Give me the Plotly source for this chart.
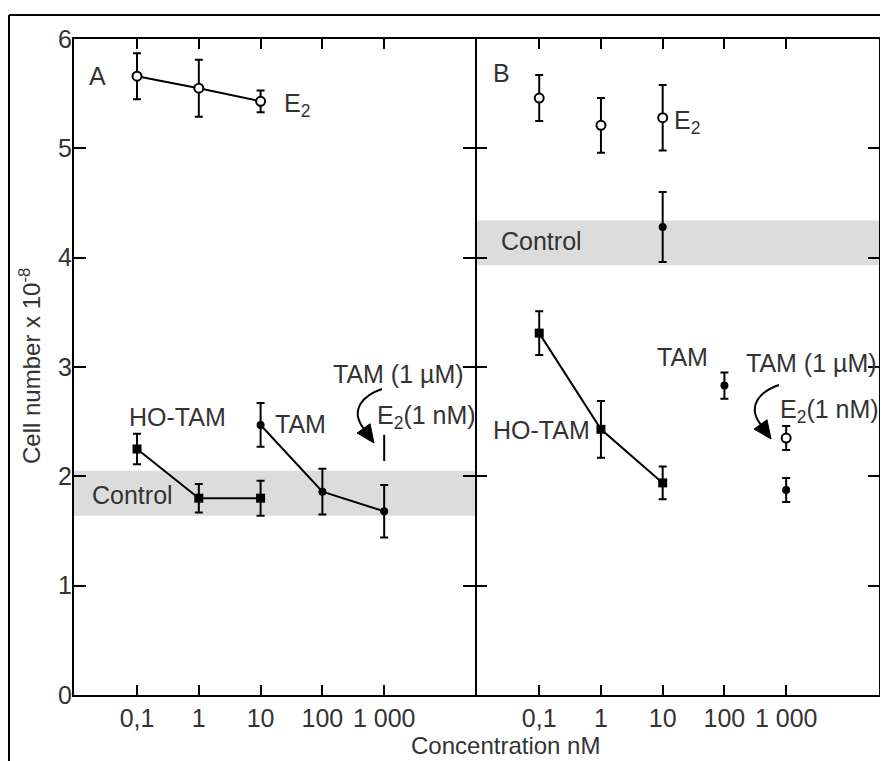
import plotly.graph_objects as go

# ---------------- data ----------------
conc_ticks = [0.1, 1, 10, 100, 1000]
conc_ticktext = ["0,1", "1", "10", "100", "1 000"]
y_ticks = [0, 1, 2, 3, 4, 5, 6]

# Panel A
a_e2_x = [0.1, 1, 10]
a_e2_y = [5.66, 5.55, 5.43]
a_e2_err = [0.21, 0.26, 0.10]

a_hotam_x = [0.1, 1, 10]
a_hotam_y = [2.25, 1.80, 1.80]
a_hotam_err = [0.14, 0.13, 0.16]

a_tam_x = [10, 100, 1000]
a_tam_y = [2.47, 1.86, 1.68]
a_tam_err = [0.20, 0.21, 0.24]

a_combo_x = [1000]
a_combo_y = [2.26]
a_combo_err = [0.12]

a_control_band = [1.64, 2.05]

# Panel B
b_e2_x = [0.1, 1, 10]
b_e2_y = [5.46, 5.21, 5.28]
b_e2_err = [0.21, 0.25, 0.30]

b_ctrl_x = [10]
b_ctrl_y = [4.28]
b_ctrl_err = [0.32]

b_hotam_x = [0.1, 1, 10]
b_hotam_y = [3.31, 2.43, 1.94]
b_hotam_err = [0.20, 0.26, 0.15]

b_tam_x = [100, 1000]
b_tam_y = [2.83, 1.875]
b_tam_err = [0.12, 0.11]

b_combo_x = [1000]
b_combo_y = [2.35]
b_combo_err = [0.11]

b_control_band = [3.93, 4.34]

# ---------------- layout geometry ----------------
# The page body adds an 8px margin, so the figure is placed at (8, 8) on screen.
OFF = 8
W, H = 888 - OFF, 761 - OFF
SX0, SX1 = 74, 880      # plot area on screen (x)
SY0, SY1 = 39, 695      # plot area on screen (y)
L = SX0 - OFF
R = W - (SX1 - OFF)
T = SY0 - OFF
B = H - (SY1 - OFF)
PW = SX1 - SX0
PH = SY1 - SY0
split = (475 - SX0) / PW


def px(x):
    return (x - SX0) / PW


def py(y):
    return (SY1 - y) / PH


FONT = "Liberation Sans, Arial, Helvetica, sans-serif"
TXT = "#333333"

fig = go.Figure()


def err(arr, width=4):
    return dict(type="data", array=arr, visible=True, color="black",
                thickness=2, width=width)


open_marker = dict(symbol="circle", size=9, color="white",
                   line=dict(color="black", width=2))
square_marker = dict(symbol="square", size=9, color="black")
dot_marker = dict(symbol="circle", size=8, color="black")

# Panel A traces
fig.add_trace(go.Scatter(x=a_hotam_x, y=a_hotam_y, mode="lines+markers",
                         line=dict(color="black", width=2), marker=square_marker,
                         error_y=err(a_hotam_err), xaxis="x", yaxis="y"))
fig.add_trace(go.Scatter(x=a_tam_x, y=a_tam_y, mode="lines+markers",
                         line=dict(color="black", width=2), marker=dot_marker,
                         error_y=err(a_tam_err), xaxis="x", yaxis="y"))
fig.add_trace(go.Scatter(x=a_combo_x, y=a_combo_y, mode="markers",
                         marker=dict(size=1, color="rgba(0,0,0,0)"),
                         error_y=err(a_combo_err, width=0), xaxis="x", yaxis="y"))
fig.add_trace(go.Scatter(x=a_e2_x, y=a_e2_y, mode="lines+markers",
                         line=dict(color="black", width=2), marker=open_marker,
                         error_y=err(a_e2_err), xaxis="x", yaxis="y"))

# Panel B traces
fig.add_trace(go.Scatter(x=b_hotam_x, y=b_hotam_y, mode="lines+markers",
                         line=dict(color="black", width=2), marker=square_marker,
                         error_y=err(b_hotam_err), xaxis="x2", yaxis="y2"))
fig.add_trace(go.Scatter(x=b_tam_x, y=b_tam_y, mode="markers", marker=dot_marker,
                         error_y=err(b_tam_err), xaxis="x2", yaxis="y2"))
fig.add_trace(go.Scatter(x=b_ctrl_x, y=b_ctrl_y, mode="markers", marker=dot_marker,
                         error_y=err(b_ctrl_err), xaxis="x2", yaxis="y2"))
fig.add_trace(go.Scatter(x=b_combo_x, y=b_combo_y, mode="markers", marker=open_marker,
                         error_y=err(b_combo_err), xaxis="x2", yaxis="y2"))
fig.add_trace(go.Scatter(x=b_e2_x, y=b_e2_y, mode="markers", marker=open_marker,
                         error_y=err(b_e2_err), xaxis="x2", yaxis="y2"))

TICKFONT = dict(family=FONT, size=25, color=TXT)
xaxis_common = dict(type="log", tickvals=conc_ticks, ticktext=conc_ticktext,
                    ticks="inside", ticklen=10, tickwidth=2, tickcolor="black",
                    showline=True, linewidth=2, linecolor="black", mirror="ticks",
                    showgrid=False, zeroline=False, tickfont=TICKFONT)
yaxis_common = dict(range=[0, 6], tickvals=y_ticks, ticks="inside", ticklen=12,
                    tickwidth=2, tickcolor="black", linewidth=2,
                    linecolor="black", mirror="ticks", showgrid=False, zeroline=False,
                    tickfont=TICKFONT)

fig.update_layout(
    width=W, height=H, margin=dict(l=L, r=R, t=T, b=B, pad=0),
    paper_bgcolor="white", plot_bgcolor="rgba(0,0,0,0)", showlegend=False,
    xaxis=dict(domain=[0, split], range=[-2.02, 4.47], anchor="y", **xaxis_common),
    xaxis2=dict(domain=[split, 1], range=[-2.04, 4.52], anchor="y2",
                **xaxis_common),
    yaxis=dict(domain=[0, 1], anchor="x", showline=True, ticklabelstandoff=-5,
               **yaxis_common),
    yaxis2=dict(domain=[0, 1], anchor="x2", showline=False, showticklabels=False,
                **yaxis_common),
)

shapes = []
# control bands
shapes.append(dict(type="rect", xref="x domain", yref="y", x0=0, x1=1,
                   y0=a_control_band[0], y1=a_control_band[1],
                   fillcolor="#dcdcdc", line=dict(width=0), layer="below"))
shapes.append(dict(type="rect", xref="x2 domain", yref="y2", x0=0, x1=1,
                   y0=b_control_band[0], y1=b_control_band[1],
                   fillcolor="#dcdcdc", line=dict(width=0), layer="below"))
# right edge of panel B
shapes.append(dict(type="line", xref="x2 domain", yref="y2 domain",
                   x0=1, x1=1, y0=0, y1=1, line=dict(color="black", width=2)))
# outer frame (left and top edges)
shapes.append(dict(type="line", xref="paper", yref="paper",
                   x0=px(9), x1=px(9), y0=py(15), y1=py(800),
                   line=dict(color="black", width=2)))
shapes.append(dict(type="line", xref="paper", yref="paper",
                   x0=px(9), x1=px(900), y0=py(15), y1=py(15),
                   line=dict(color="black", width=2)))


def curved_arrow(start, tip, head_len=18, half_w=8):
    # shaft: cubic curve bulging to the left, ending in a head pointing down-right
    sx, sy = start
    tx, ty = tip
    d = (0.58, 0.81)
    n = (d[1], -d[0])
    bx, by = tx - head_len * d[0], ty - head_len * d[1]
    c1 = (sx - 18, sy + 6)
    c2 = (bx - 0.6 * 24, by - 0.8 * 24)
    p = (f"M {px(sx)},{py(sy)} C {px(c1[0])},{py(c1[1])} "
         f"{px(c2[0])},{py(c2[1])} {px(bx)},{py(by)}")
    h = (f"M {px(tx)},{py(ty)} L {px(bx + half_w * n[0])},{py(by + half_w * n[1])} "
         f"L {px(bx - half_w * n[0])},{py(by - half_w * n[1])} Z")
    return [dict(type="path", xref="paper", yref="paper", path=p,
                 line=dict(color="black", width=2)),
            dict(type="path", xref="paper", yref="paper", path=h,
                 fillcolor="black", line=dict(color="black", width=1))]


shapes += curved_arrow((382, 389), (374, 443))
shapes += curved_arrow((779, 385), (771, 439))
fig.update_layout(shapes=shapes)

ann = []


def text(t, x, y, xref, yref, xanchor="center", size=25, **kw):
    ann.append(dict(text=t, x=x, y=y, xref=xref, yref=yref, xanchor=xanchor,
                    yanchor="middle", showarrow=False,
                    font=dict(family=FONT, size=size, color=TXT), **kw))


# Panel A labels
text("A", -1.647, 5.66, "x", "y")
text("E<sub>2</sub>", 1.348, 5.40, "x", "y", xanchor="left")
text("HO-TAM", -0.352, 2.54, "x", "y")
text("TAM", 1.64, 2.48, "x", "y")
text("TAM (1 µM)", 3.227, 2.94, "x", "y")
text("E<sub>2</sub>(1 nM)", 2.855, 2.54, "x", "y", xanchor="left")
text("Control", -1.081, 1.83, "x", "y")

# Panel B labels
text("B", -1.603, 5.69, "x2", "y2")
text("E<sub>2</sub>", 1.15, 5.24, "x2", "y2", xanchor="left")
text("Control", -0.971, 4.15, "x2", "y2")
text("HO-TAM", -0.971, 2.42, "x2", "y2")
text("TAM", 1.328, 3.09, "x2", "y2")
text("TAM (1 µM)", 3.418, 3.04, "x2", "y2")
text("E<sub>2</sub>(1 nM)", 2.867, 2.60, "x2", "y2", xanchor="left")

# axis titles
text("Concentration nM", px(505), py(746), "paper", "paper", size=24)
text("Cell number x 10<sup>-8</sup>", px(30), py(366), "paper", "paper",
     size=24, textangle=-90)

fig.update_layout(annotations=ann)

fig.write_html("out.html")
